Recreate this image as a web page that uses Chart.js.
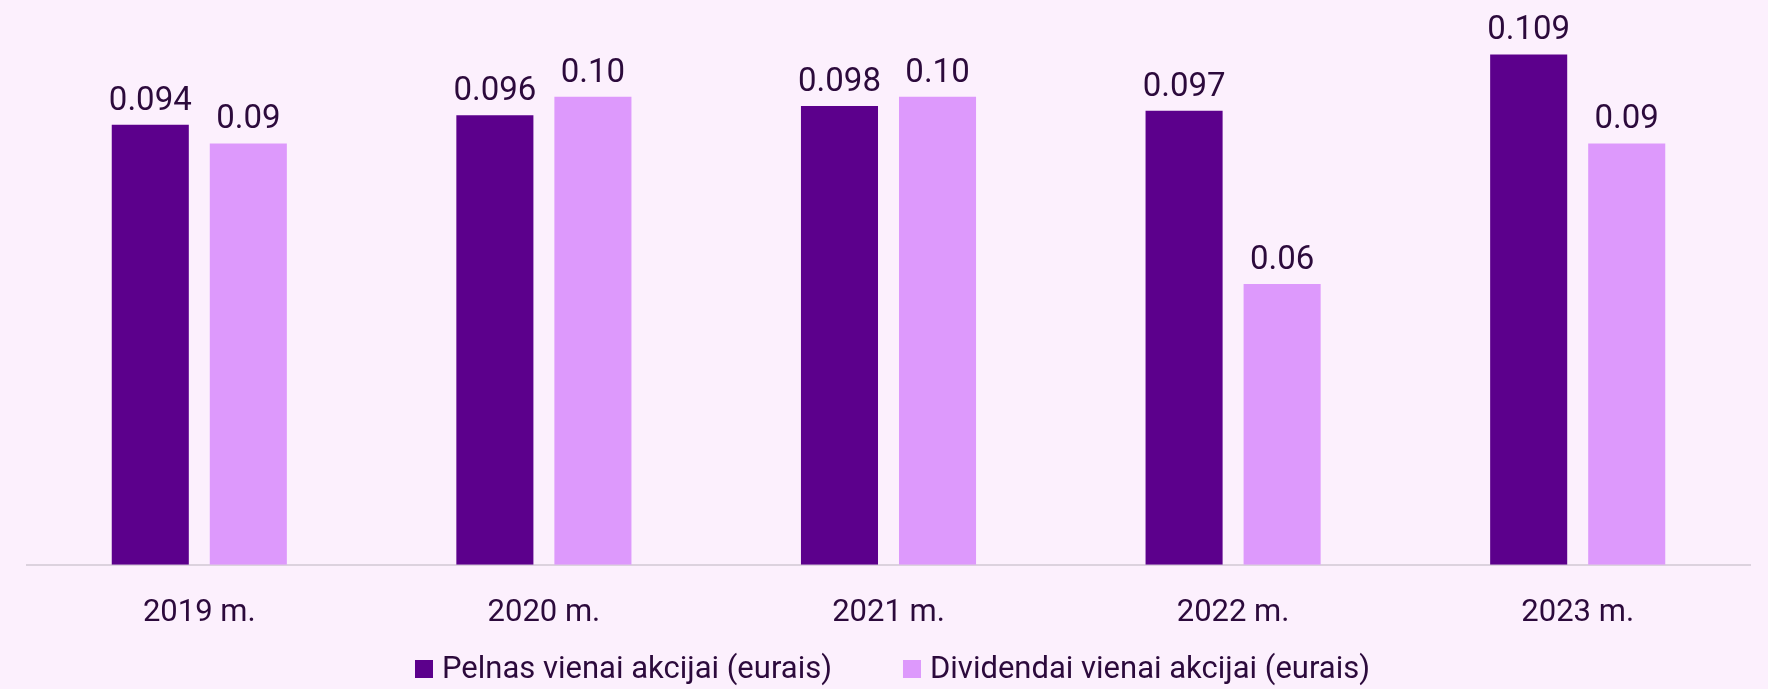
<!DOCTYPE html>
<html>
<head>
<meta charset="utf-8">
<script src="https://cdn.jsdelivr.net/npm/chart.js@4"></script>
<style>
  html, body { margin: 0; padding: 0; background: #fcf0fd; }
  #wrap { width: 1768px; height: 689px; }
</style>
</head>
<body>
<div id="wrap"><canvas id="epsChart"></canvas></div>
<script>
// chart data
const years = ["2019 m.", "2020 m.", "2021 m.", "2022 m.", "2023 m."];
const profitPerShare = [0.094, 0.096, 0.098, 0.097, 0.109];
const dividendPerShare = [0.09, 0.10, 0.10, 0.06, 0.09];
const seriesNames = ["Pelnas vienai akcijai (eurais)", "Dividendai vienai akcijai (eurais)"];
const decimals = [3, 2];

const textColor = "#2c0a3c";
const fontFamily = "Roboto, 'Open Sans', sans-serif";

// draw value labels above each bar
const valueLabels = {
    id: "valueLabels",
    afterDatasetsDraw(chart) {
        let ctx = chart.ctx;
        ctx.save();
        ctx.font = "33px " + fontFamily;
        ctx.fillStyle = textColor;
        ctx.textAlign = "center";
        ctx.textBaseline = "alphabetic";
        chart.data.datasets.forEach((ds, i) => {
            let meta = chart.getDatasetMeta(i);
            meta.data.forEach((bar, j) => {
                ctx.fillText(ds.data[j].toFixed(decimals[i]), bar.x, bar.y - 15);
            });
        });
        ctx.restore();
    }
};

// legend drawn below the axis, wider spacing than the built-in one
const bottomLegend = {
    id: "bottomLegend",
    afterDraw(chart) {
        let ctx = chart.ctx;
        let box = 18, textGap = 9, itemGap = 71;
        let cy = chart.height - 20;
        ctx.save();
        ctx.font = "31px " + fontFamily;
        ctx.textBaseline = "middle";
        ctx.textAlign = "left";
        let items = chart.data.datasets.map(ds => ({
            text: ds.label,
            color: ds.backgroundColor,
            w: box + textGap + ctx.measureText(ds.label).width
        }));
        let total = items.reduce((s, it) => s + it.w, 0) + itemGap * (items.length - 1);
        let x = (chart.chartArea.left + chart.chartArea.right) / 2 - total / 2 + 4;
        items.forEach(it => {
            ctx.fillStyle = it.color;
            ctx.fillRect(x, cy - box / 2, box, box);
            ctx.fillStyle = textColor;
            ctx.fillText(it.text, x + box + textGap, cy + 1);
            x += it.w + itemGap;
        });
        ctx.restore();
    }
};

let ctx = document.getElementById("epsChart").getContext("2d");
new Chart(ctx, {
    type: "bar",
    data: {
        labels: years,
        datasets: [{
            label: seriesNames[0],
            data: profitPerShare,
            backgroundColor: "#5c008c"
        }, {
            label: seriesNames[1],
            data: dividendPerShare,
            backgroundColor: "#dd99fc"
        }]
    },
    options: {
        responsive: true,
        maintainAspectRatio: false,
        animation: false,
        categoryPercentage: 0.569,
        barPercentage: 0.786,
        layout: { padding: { left: 27, right: 18, top: 3, bottom: 35 } },
        plugins: {
            legend: { display: false },
            tooltip: { enabled: false }
        },
        scales: {
            x: {
                grid: { display: false },
                border: { color: "#dcd2de", width: 2 },
                ticks: {
                    color: textColor,
                    font: { size: 31, family: fontFamily },
                    padding: 22
                }
            },
            y: {
                display: false,
                min: 0,
                max: 0.12
            }
        }
    },
    plugins: [valueLabels, bottomLegend]
});
</script>
</body>
</html>
